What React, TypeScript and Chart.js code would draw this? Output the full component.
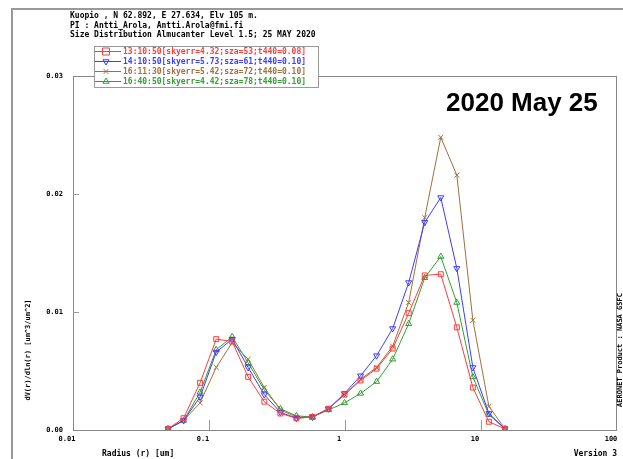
import React, { useEffect, useRef } from 'react';
import { Chart, registerables } from 'chart.js';

Chart.register(...registerables);

// ---- data ----
const radius = [0.050, 0.065, 0.086, 0.113, 0.148, 0.194, 0.255, 0.335, 0.439, 0.576, 0.756, 0.992, 1.302, 1.708, 2.241, 2.940, 3.857, 5.061, 6.641, 8.713, 11.432, 15.000];
const series1310 = [0.0001, 0.0010, 0.0040, 0.0077, 0.0075, 0.0045, 0.0024, 0.0014, 0.0010, 0.0011, 0.0018, 0.0030, 0.0042, 0.0052, 0.0069, 0.0099, 0.0131, 0.0132, 0.0087, 0.0036, 0.0007, 0.0001];
const series1410 = [0.0001, 0.0008, 0.0028, 0.0066, 0.0077, 0.0053, 0.0030, 0.0015, 0.0010, 0.0011, 0.0018, 0.0031, 0.0046, 0.0063, 0.0086, 0.0125, 0.0176, 0.0197, 0.0137, 0.0053, 0.0014, 0.0001];
const series1611 = [0.0001, 0.0008, 0.0023, 0.0053, 0.0074, 0.0060, 0.0036, 0.0017, 0.0011, 0.0011, 0.0018, 0.0030, 0.0043, 0.0053, 0.0071, 0.0108, 0.0180, 0.0248, 0.0216, 0.0093, 0.0020, 0.0001];
const series1640 = [0.0001, 0.0008, 0.0032, 0.0068, 0.0079, 0.0057, 0.0034, 0.0018, 0.0012, 0.0011, 0.0017, 0.0023, 0.0031, 0.0041, 0.0060, 0.0090, 0.0129, 0.0147, 0.0108, 0.0045, 0.0013, 0.0001];
const seriesLabels = [
  '13:10:50[skyerr=4.32;sza=53;t440=0.08]',
  '14:10:50[skyerr=5.73;sza=61;t440=0.10]',
  '16:11:30[skyerr=5.42;sza=72;t440=0.10]',
  '16:40:50[skyerr=4.42;sza=78;t440=0.10]',
];
const xTickValues = [0.01, 0.1, 1, 10, 100];
const yTickValues = [0, 0.01, 0.02, 0.03];
const headerLines = [
  'Kuopio , N 62.892, E 27.634, Elv 105 m.',
  'PI : Antti_Arola, Antti.Arola@fmi.fi',
  'Size Distribution Almucanter Level 1.5; 25 MAY 2020',
];
const bigTitle = '2020 May 25';
const yTitle = 'dV(r)/dln(r) [um^3/um^2]';
const xTitle = 'Radius (r) [um]';
const versionText = 'Version 3';
const sideText = 'AERONET Product : NASA GSFC';

const colors = ['#ff3c3c', '#3c3cff', '#a0703c', '#32a032'];
const markers = ['rect', 'triangleDown', 'crossRot', 'triangle'];

const MONO = '"DejaVu Sans Mono", monospace';

function drawMarker(ctx: CanvasRenderingContext2D, kind: string, x: number, y: number, r: number) {
  ctx.beginPath();
  if (kind === 'rect') {
    ctx.rect(x - r, y - r, 2 * r, 2 * r);
  } else if (kind === 'triangle') {
    ctx.moveTo(x, y - r);
    ctx.lineTo(x - r * 0.87, y + r * 0.5);
    ctx.lineTo(x + r * 0.87, y + r * 0.5);
    ctx.closePath();
  } else if (kind === 'triangleDown') {
    ctx.moveTo(x, y + r);
    ctx.lineTo(x - r * 0.87, y - r * 0.5);
    ctx.lineTo(x + r * 0.87, y - r * 0.5);
    ctx.closePath();
  } else {
    ctx.moveTo(x - r * 0.7, y - r * 0.7);
    ctx.lineTo(x + r * 0.7, y + r * 0.7);
    ctx.moveTo(x + r * 0.7, y - r * 0.7);
    ctx.lineTo(x - r * 0.7, y + r * 0.7);
  }
  ctx.stroke();
}

const decorPlugin = {
  id: 'decor',
  afterDraw(chart: any) {
    const { ctx, chartArea: a, scales } = chart;
    const xs = scales.x;
    const ys = scales.y;
    ctx.save();

    // outer page frame
    ctx.strokeStyle = '#999';
    ctx.lineWidth = 2;
    ctx.beginPath();
    ctx.moveTo(12, 459);
    ctx.lineTo(12, 9);
    ctx.lineTo(623, 9);
    ctx.stroke();

    // plot frame
    ctx.strokeStyle = '#888';
    ctx.lineWidth = 1;
    ctx.strokeRect(a.left + 0.5, a.top + 0.5, a.right - a.left - 1, a.bottom - a.top);

    // inward tick marks
    ctx.strokeStyle = '#999';
    ctx.beginPath();
    xTickValues.slice(1, -1).forEach((v) => {
      const px = Math.round(xs.getPixelForValue(v)) + 0.5;
      ctx.moveTo(px, a.bottom);
      ctx.lineTo(px, a.bottom - 10);
    });
    yTickValues.slice(1, -1).forEach((v) => {
      const py = Math.round(ys.getPixelForValue(v)) + 0.5;
      ctx.moveTo(a.left, py);
      ctx.lineTo(a.left + 6, py);
    });
    ctx.stroke();

    // header text
    ctx.fillStyle = '#000';
    ctx.font = `bold 8px ${MONO}`;
    ctx.textBaseline = 'middle';
    ctx.textAlign = 'left';
    headerLines.forEach((t, i) => ctx.fillText(t, 70, 16 + i * 9.6));

    // legend
    const lx0 = 94, lx1 = 318, ly0 = 46, ly1 = 87;
    ctx.fillStyle = '#fff';
    ctx.fillRect(lx0, ly0, lx1 - lx0, ly1 - ly0);
    ctx.strokeStyle = '#999';
    ctx.strokeRect(lx0 + 0.5, ly0 + 0.5, lx1 - lx0, ly1 - ly0);
    seriesLabels.forEach((t, i) => {
      const cy = 51 + i * 10;
      ctx.strokeStyle = colors[i];
      ctx.lineWidth = 1;
      ctx.beginPath();
      ctx.moveTo(95, cy + 0.5);
      ctx.lineTo(121, cy + 0.5);
      ctx.stroke();
      drawMarker(ctx, markers[i], 106, cy + 0.5, 3.5);
      ctx.fillStyle = colors[i];
      ctx.font = `bold 8px ${MONO}`;
      ctx.fillText(t, 123, cy + 0.5);
    });

    // big title
    ctx.fillStyle = '#000';
    ctx.font = 'bold 26px "Liberation Sans", Arial, sans-serif';
    ctx.textBaseline = 'alphabetic';
    ctx.fillText(bigTitle, 446, 111);

    // axis titles
    ctx.font = `bold 8px ${MONO}`;
    ctx.textBaseline = 'middle';
    ctx.fillText(xTitle, 102, 454);
    ctx.textAlign = 'right';
    ctx.fillText(versionText, 617, 454);

    ctx.font = `bold 7px ${MONO}`;
    ctx.textAlign = 'center';
    ctx.save();
    ctx.translate(28, 350);
    ctx.rotate(-Math.PI / 2);
    ctx.fillText(yTitle, 0, 0);
    ctx.restore();

    ctx.save();
    ctx.translate(620, 350);
    ctx.rotate(-Math.PI / 2);
    ctx.fillText(sideText, 0, 0);
    ctx.restore();

    ctx.restore();
  },
};

export default function App() {
  const ref = useRef<HTMLCanvasElement | null>(null);

  useEffect(() => {
    if (!ref.current) return;
    const allSeries = [series1310, series1410, series1611, series1640];
    const chart = new Chart(ref.current, {
      type: 'line',
      data: {
        datasets: allSeries.map((s, i) => ({
          label: seriesLabels[i],
          data: radius.map((r, k) => ({ x: r, y: s[k] })),
          borderColor: colors[i],
          borderWidth: 1,
          pointStyle: markers[i] === 'triangleDown' ? 'triangle' : markers[i],
          rotation: markers[i] === 'triangleDown' ? 180 : 0,
          pointRadius: 3.5,
          pointBorderWidth: 1,
          pointBorderColor: colors[i],
          pointBackgroundColor: 'rgba(255,255,255,0)',
          tension: 0,
          fill: false,
        })),
      },
      options: {
        animation: false,
        responsive: false,
        devicePixelRatio: 1,
        layout: { padding: { top: 76, right: 6, bottom: 0, left: 0 } },
        plugins: { legend: { display: false }, tooltip: { enabled: false }, title: { display: false } },
        scales: {
          x: {
            type: 'logarithmic',
            min: 0.01,
            max: 100,
            afterBuildTicks: (s: any) => {
              s.ticks = xTickValues.map((value) => ({ value }));
            },
            afterFit: (s: any) => {
              s.height = 29;
              s.paddingLeft = 0;
              s.paddingRight = 0;
            },
            ticks: {
              callback: (v: any) => String(Number(v)),
              font: { family: MONO, size: 7, weight: 'bold' },
              color: '#000',
              padding: 5,
              labelOffset: -6,
              maxRotation: 0,
              autoSkip: false,
            },
            grid: { display: false, drawTicks: false },
            border: { display: false },
          },
          y: {
            min: 0,
            max: 0.03,
            afterBuildTicks: (s: any) => {
              s.ticks = yTickValues.map((value) => ({ value }));
            },
            afterFit: (s: any) => {
              s.width = 73;
              s.paddingTop = 0;
              s.paddingBottom = 0;
            },
            ticks: {
              callback: (v: any) => Number(v).toFixed(2),
              font: { family: MONO, size: 7, weight: 'bold' },
              color: '#000',
              padding: 10,
            },
            grid: { display: false, drawTicks: false },
            border: { display: false },
          },
        },
      },
      plugins: [decorPlugin],
    });
    return () => chart.destroy();
  }, []);

  return (
    <div style={{ position: 'fixed', left: 0, top: 0, width: 623, height: 459, background: '#fff' }}>
      <canvas ref={ref} width={623} height={459} style={{ display: 'block' }} />
    </div>
  );
}
